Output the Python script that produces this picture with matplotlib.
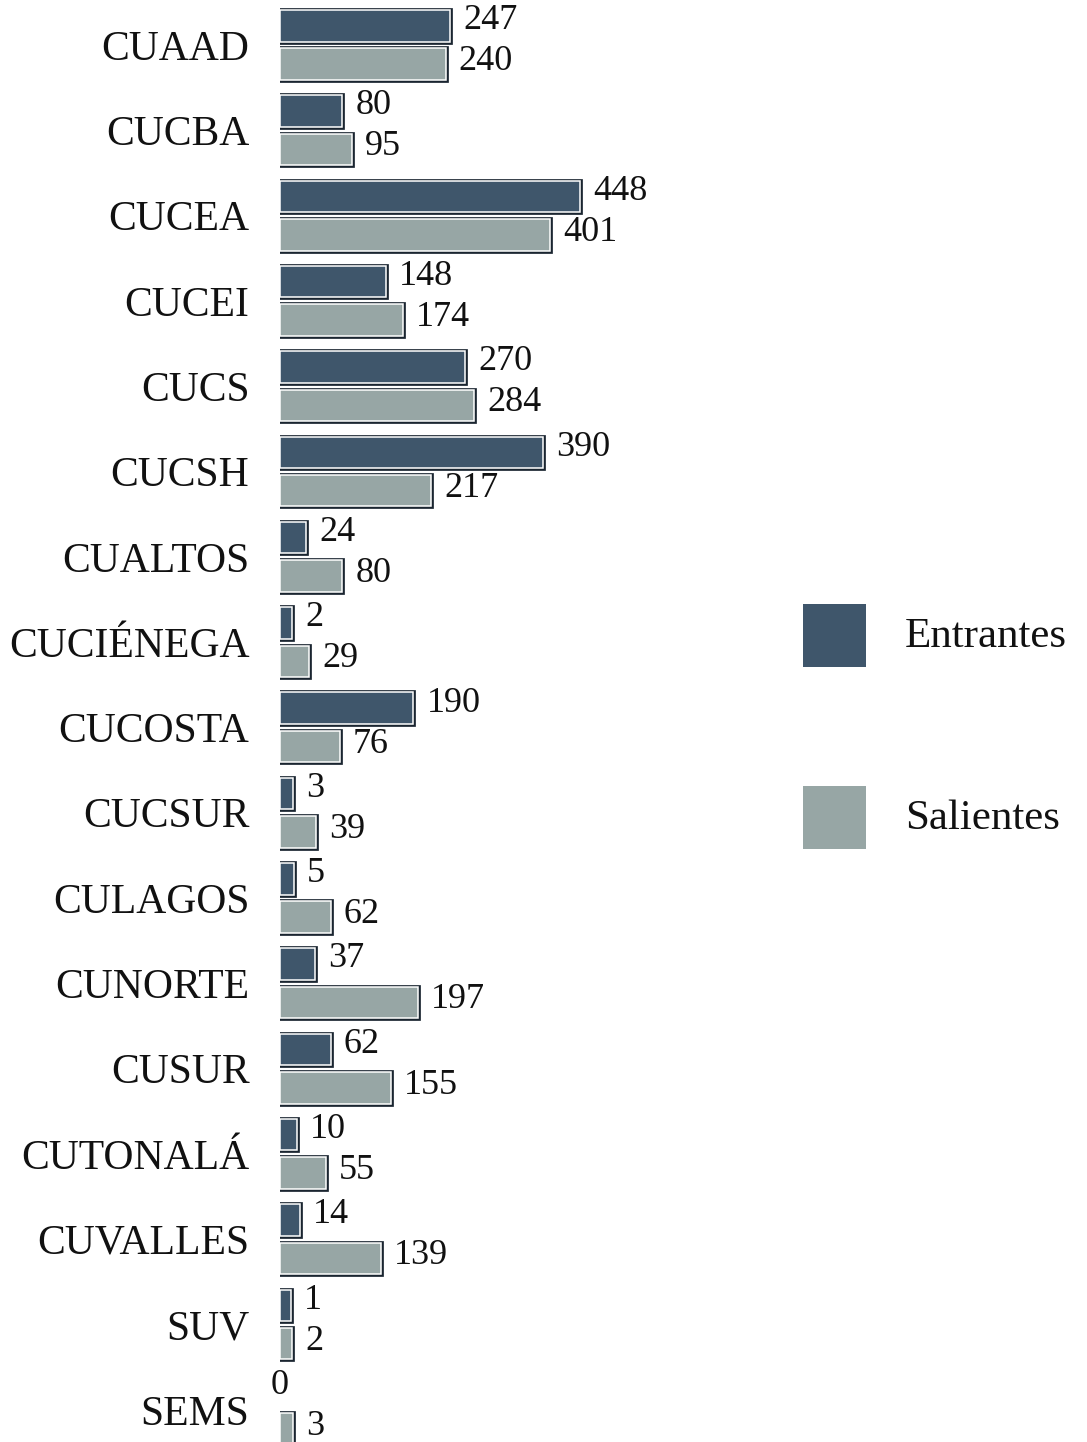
import matplotlib
matplotlib.use("Agg")
import matplotlib.pyplot as plt
import matplotlib.patheffects as pe
from matplotlib.patches import Rectangle
import numpy as np

categories = ["CUAAD", "CUCBA", "CUCEA", "CUCEI", "CUCS", "CUCSH", "CUALTOS",
              "CUCIÉNEGA", "CUCOSTA", "CUCSUR", "CULAGOS", "CUNORTE", "CUSUR",
              "CUTONALÁ", "CUVALLES", "SUV", "SEMS"]
entrantes = [247, 80, 448, 148, 270, 390, 24, 2, 190, 3, 5, 37, 62, 10, 14, 1, 0]
salientes = [240, 95, 401, 174, 284, 217, 80, 29, 76, 39, 62, 197, 155, 55, 139, 2, 3]
series_names = ["Entrantes", "Salientes"]

c_ent = "#3f566b"
c_sal = "#97a6a5"

plt.rcParams["font.family"] = ["Liberation Serif", "DejaVu Serif"]

W, H = 1087, 1442
fig = plt.figure(figsize=(W / 100, H / 100), dpi=100)
ax_left, ax_right = 280, 760
ax = fig.add_axes([ax_left / W, 0, (ax_right - ax_left) / W, 1])

# pseudo-3D depth: bars start slightly left of zero, like the original's perspective bars
depth = 16.6
px_per_unit = 0.646
ax.set_xlim(-depth, -depth + (ax_right - ax_left) / px_per_unit)
spacing = 85.3
top_c = 45
ax.set_ylim((H - top_c) / spacing, -top_c / spacing)

y = np.arange(len(categories))
bh = 0.37
off = 0.225
effects = [pe.Stroke(linewidth=3.4, foreground="#1a2530"), pe.Normal()]
ent_arr = np.array(entrantes, dtype=float)
sal_arr = np.array(salientes, dtype=float)
b1 = ax.barh(y - off, np.where(ent_arr > 0, ent_arr + depth, 0), left=-depth,
             height=bh, color=c_ent, edgecolor="white", linewidth=1.1)
b2 = ax.barh(y + off, np.where(sal_arr > 0, sal_arr + depth, 0), left=-depth,
             height=bh, color=c_sal, edgecolor="white", linewidth=1.1)
for bars in (b1, b2):
    for b in bars:
        if b.get_width() > 0:
            b.set_path_effects(effects)
        else:
            b.set_visible(False)

gap = 13 / px_per_unit
for i, (e, s) in enumerate(zip(entrantes, salientes)):
    if e > 0:
        ax.text(e + gap, i - off - 0.06, str(e), fontsize=26, ha="left",
                va="center", color="#111111")
    else:
        ax.text(-depth, i - off - 0.06, str(e), fontsize=26, ha="center",
                va="center", color="#111111")
    ax.text(s + gap, i + off - 0.03, str(s), fontsize=26, ha="left", va="center",
            color="#111111")

ax.set_yticks(y)
ax.set_yticklabels(categories, fontsize=30, color="#111111")
ax.tick_params(axis="y", length=0, pad=22)
ax.set_xticks([])
for sp in ax.spines.values():
    sp.set_visible(False)

# legend drawn in figure pixel space
leg_items = [(series_names[0], c_ent, 604), (series_names[1], c_sal, 786)]
for name, col, ytop in leg_items:
    fig.patches.append(Rectangle((803 / W, 1 - (ytop + 63) / H), 63 / W, 63 / H,
                                 transform=fig.transFigure, facecolor=col,
                                 edgecolor="none"))
    fig.text(905 / W, 1 - (ytop + 33) / H, name, fontsize=31, ha="left",
             va="center", color="#111111")

fig.savefig("out.png", dpi=100)
